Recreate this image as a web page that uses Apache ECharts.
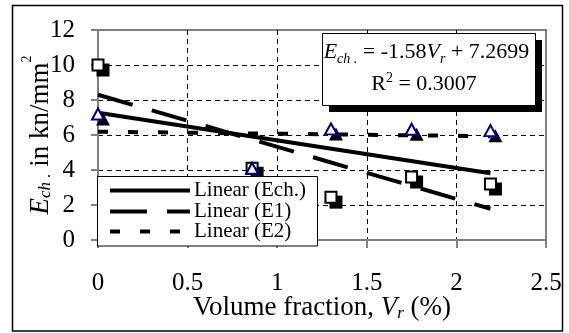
<!DOCTYPE html>
<html><head><meta charset="utf-8">
<script src="https://cdn.jsdelivr.net/npm/echarts@6/dist/echarts.min.js"></script>
<style>html,body{margin:0;padding:0;background:#fff}#c{width:569px;height:333px}</style>
</head><body><div id="c"></div>
<script>
// ---- data ----
const volumeFraction = [0, 0.86, 1.3, 1.75, 2.19];
const e1Values = [10.0, 4.1, 2.45, 3.6, 3.2];
const e2Values = [7.2, 4.1, 6.35, 6.33, 6.25];
const echSlope = -1.58;
const echIntercept = 7.2699;
const echR2 = 0.3007;
const xTicks = ['0', '0.5', '1', '1.5', '2', '2.5'];
const yTicks = ['0', '2', '4', '6', '8', '10', '12'];
const legendNames = ['Linear (Ech.)', 'Linear (E1)', 'Linear (E2)'];

// ---- helpers ----
function linfit(x, y) {
  const n = x.length;
  const mx = x.reduce((a, b) => a + b, 0) / n;
  const my = y.reduce((a, b) => a + b, 0) / n;
  let sxy = 0, sxx = 0;
  for (let i = 0; i < n; i++) { sxy += (x[i] - mx) * (y[i] - my); sxx += (x[i] - mx) * (x[i] - mx); }
  const b = sxy / sxx;
  return { slope: b, intercept: my - b * mx };
}
const xMin = Math.min(...volumeFraction), xMax = Math.max(...volumeFraction);
function trend(f) { return [[xMin, f.intercept + f.slope * xMin], [xMax, f.intercept + f.slope * xMax]]; }
const fitE1 = linfit(volumeFraction, e1Values);
const fitE2 = linfit(volumeFraction, e2Values);
const fitEch = { slope: echSlope, intercept: echIntercept };

const pts = (ys) => volumeFraction.map((x, i) => [x, ys[i]]);
const SERIF = 'Liberation Serif';

const chart = echarts.init(document.getElementById('c'), null, { renderer: 'canvas' });

const lineStyles = [
  { color: '#000', width: 4, type: 'solid' },
  { color: '#000', width: 4, type: [36, 20], cap: 'butt' },
  { color: '#000', width: 4, type: [10, 20], cap: 'butt' }
];

const option = {
  animation: false,
  backgroundColor: '#fff',
  grid: { left: 98, right: 23, top: 30, bottom: 93, show: true, borderColor: '#808080', borderWidth: 2 },
  xAxis: {
    type: 'value', min: 0, max: 2.5, interval: 0.5,
    axisLine: { lineStyle: { color: '#808080', width: 2 } },
    axisTick: { show: true, length: 8, lineStyle: { color: '#808080', width: 2 } },
    axisLabel: { fontFamily: SERIF, fontSize: 25, color: '#000', margin: 31,
      formatter: (v) => xTicks[Math.round(v / 0.5)] },
    splitLine: { show: true, showMinLine: false, showMaxLine: false, lineStyle: { color: '#000', width: 1, type: [5, 4] } }
  },
  yAxis: {
    type: 'value', min: 0, max: 12, interval: 2,
    axisLine: { show: true, lineStyle: { color: '#808080', width: 2 } },
    axisTick: { show: true, length: 7, lineStyle: { color: '#808080', width: 2 } },
    axisLabel: { fontFamily: SERIF, fontSize: 25, color: '#000', margin: 23,
      formatter: (v) => yTicks[Math.round(v / 2)] },
    splitLine: { show: true, showMinLine: false, showMaxLine: false, lineStyle: { color: '#000', width: 1, type: [5, 4] } }
  },
  series: [
    { name: legendNames[0], type: 'line', data: trend(fitEch), showSymbol: false, lineStyle: lineStyles[0], z: 2 },
    { name: legendNames[1], type: 'line', data: trend(fitE1), showSymbol: false, lineStyle: lineStyles[1], z: 2 },
    { name: legendNames[2], type: 'line', data: trend(fitE2), showSymbol: false, lineStyle: lineStyles[2], z: 2 },
    { type: 'scatter', data: pts(e1Values), symbol: 'rect', symbolSize: 13, symbolOffset: [5, 5],
      itemStyle: { color: '#000', opacity: 1 }, z: 3, silent: true },
    { type: 'scatter', data: pts(e1Values), symbol: 'rect', symbolSize: 11,
      itemStyle: { color: '#fff', borderColor: '#000', borderWidth: 2, opacity: 1 }, z: 4, silent: true },
    { type: 'scatter', data: pts(e2Values), symbol: 'triangle', symbolSize: [14, 13], symbolOffset: [5, 5],
      itemStyle: { color: '#000', opacity: 1 }, z: 5, silent: true },
    { type: 'scatter', data: pts(e2Values), symbol: 'triangle', symbolSize: [12, 11],
      itemStyle: { color: '#fff', borderColor: '#000080', borderWidth: 2, opacity: 1 }, z: 6, silent: true }
  ],
  graphic: [
    // outer frame
    { type: 'rect', z: 100, shape: { x: 12.5, y: 5.5, width: 550, height: 325.5 }, style: { fill: 'none', stroke: '#000', lineWidth: 1.5 } },
    // legend box
    { type: 'rect', z: 100, shape: { x: 97.5, y: 176.5, width: 220, height: 69.5 }, style: { fill: '#fff', stroke: '#000', lineWidth: 1 } },
    { type: 'line', z: 101, shape: { x1: 110, y1: 190.5, x2: 190, y2: 190.5 }, style: { stroke: '#000', lineWidth: 4 } },
    { type: 'line', z: 101, shape: { x1: 110, y1: 211.5, x2: 190, y2: 211.5 }, style: { stroke: '#000', lineWidth: 4, lineDash: [37, 20] } },
    { type: 'line', z: 101, shape: { x1: 110, y1: 231.5, x2: 190, y2: 231.5 }, style: { stroke: '#000', lineWidth: 4, lineDash: [10, 20] } },
    { type: 'text', z: 101, x: 194, y: 190.5, style: { text: legendNames[0], fontFamily: SERIF, fontSize: 21, fill: '#000', align: 'left', verticalAlign: 'middle', textAlign: 'left', textVerticalAlign: 'middle' } },
    { type: 'text', z: 101, x: 194, y: 211.5, style: { text: legendNames[1], fontFamily: SERIF, fontSize: 21, fill: '#000', align: 'left', verticalAlign: 'middle', textAlign: 'left', textVerticalAlign: 'middle' } },
    { type: 'text', z: 101, x: 194, y: 231.5, style: { text: legendNames[2], fontFamily: SERIF, fontSize: 21, fill: '#000', align: 'left', verticalAlign: 'middle', textAlign: 'left', textVerticalAlign: 'middle' } },
    // equation box with shadow
    { type: 'rect', z: 100, shape: { x: 329, y: 40, width: 213, height: 72 }, style: { fill: '#000' } },
    { type: 'rect', z: 101, shape: { x: 322.5, y: 33.5, width: 213, height: 72 }, style: { fill: '#fff', stroke: '#000', lineWidth: 1 } },
    { type: 'text', z: 102, x: 426.5, y: 54, style: {
        text: '{e|E}{s|ch .}{n| = -1.58}{e|V}{s|r}{n| + ' + echIntercept + '}',
        fill: '#000', align: 'center', verticalAlign: 'middle', textAlign: 'center', textVerticalAlign: 'middle',
        rich: {
          n: { fontFamily: SERIF, fontSize: 22, lineHeight: 25, verticalAlign: 'top' },
          e: { fontFamily: SERIF, fontSize: 22, fontStyle: 'italic', lineHeight: 25, verticalAlign: 'top' },
          s: { fontFamily: SERIF, fontSize: 14, fontStyle: 'italic', verticalAlign: 'bottom' }
        } } },
    { type: 'text', z: 102, x: 424, y: 83.3, style: {
        text: '{n|R}{p|2}{n| = ' + echR2.toFixed(4) + '}',
        fill: '#000', align: 'center', verticalAlign: 'middle', textAlign: 'center', textVerticalAlign: 'middle',
        rich: {
          n: { fontFamily: SERIF, fontSize: 22, lineHeight: 24, verticalAlign: 'bottom' },
          p: { fontFamily: SERIF, fontSize: 14, verticalAlign: 'top' }
        } } },
    // x-axis title
    { type: 'text', z: 102, x: 322, y: 308.5, style: {
        text: '{n|Volume fraction, }{e|V}{s|r}{n| (%)}',
        fill: '#000', align: 'center', verticalAlign: 'middle', textAlign: 'center', textVerticalAlign: 'middle',
        rich: {
          n: { fontFamily: SERIF, fontSize: 27, lineHeight: 28, verticalAlign: 'top' },
          e: { fontFamily: SERIF, fontSize: 27, fontStyle: 'italic', lineHeight: 28, verticalAlign: 'top' },
          s: { fontFamily: SERIF, fontSize: 17, fontStyle: 'italic', verticalAlign: 'bottom' }
        } } },
    // y-axis title
    { type: 'text', z: 102, x: 37.5, y: 135, rotation: Math.PI / 2, style: {
        text: '{e|E}{s|ch .}{n| in kn/mm}{p|2}',
        fill: '#000', align: 'center', verticalAlign: 'middle', textAlign: 'center', textVerticalAlign: 'middle',
        rich: {
          n: { fontFamily: SERIF, fontSize: 27, lineHeight: 34, verticalAlign: 'bottom' },
          e: { fontFamily: SERIF, fontSize: 27, fontStyle: 'italic', lineHeight: 34, verticalAlign: 'bottom' },
          s: { fontFamily: SERIF, fontSize: 17, fontStyle: 'italic', verticalAlign: 'bottom' },
          p: { fontFamily: SERIF, fontSize: 14, verticalAlign: 'top' }
        } } }
  ]
};
chart.setOption(option);
</script>
</body></html>
